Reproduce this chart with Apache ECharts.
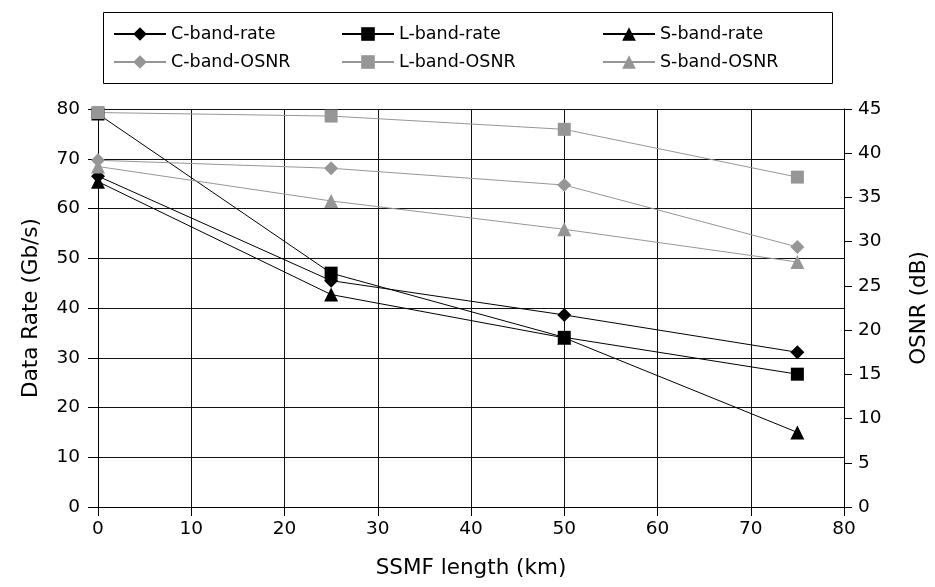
<!DOCTYPE html>
<html><head><meta charset="utf-8">
<script src="https://cdn.jsdelivr.net/npm/echarts@6/dist/echarts.min.js"></script>
<style>html,body{margin:0;padding:0;background:#fff}#c{width:935px;height:587px}</style>
</head><body><div id="c"></div>
<script>
const lengths = [0, 25, 50, 75];
const cBandRate = [66.5, 45.5, 38.6, 31.1];
const lBandRate = [79, 47, 34.1, 26.7];
const sBandRate = [65.4, 42.7, 34, 15];
const cBandOSNR = [39.2, 38.3, 36.4, 29.4];
const lBandOSNR = [44.6, 44.2, 42.7, 37.3];
const sBandOSNR = [38.5, 34.6, 31.4, 27.7];
const seriesNames = ['C-band-rate','L-band-rate','S-band-rate','C-band-OSNR','L-band-OSNR','S-band-OSNR'];

const FONT = 'DejaVu Sans';
const BLACK = '#000000';
const GRAY = '#969696';
const pairs = (ys) => lengths.map((x, i) => [x, ys[i]]);

function mk(name, data, yIdx, color, symbol, size) {
  return {
    name, type: 'line', yAxisIndex: yIdx, data: pairs(data),
    symbol, symbolSize: size, showSymbol: true,
    lineStyle: { color, width: 1 },
    itemStyle: { color, borderWidth: 0 },
    emphasis: { disabled: true },
    animation: false
  };
}

const legendPos = [
  [113, 25], [341, 25], [602, 25],
  [113, 53], [341, 53], [602, 53]
];

const chart = echarts.init(document.getElementById('c'), null, { renderer: 'canvas' });
chart.setOption({
  animation: false,
  textStyle: { fontFamily: FONT },
  graphic: [{
    type: 'rect', shape: { x: 103.5, y: 12.5, width: 729, height: 71 },
    style: { fill: 'none', stroke: '#000', lineWidth: 1 }, z: 0
  }],
  legend: seriesNames.map((n, i) => ({
    data: [n], left: legendPos[i][0], top: legendPos[i][1],
    itemWidth: 52, itemHeight: 17, itemGap: 6, padding: 0,
    textStyle: { fontFamily: FONT, fontSize: 17.5, color: '#000' },
    selectedMode: false
  })),
  grid: { left: 98, right: 91, top: 109, bottom: 80, containLabel: false, outerBoundsMode: 'none' },
  xAxis: {
    type: 'value', min: 0, max: 80, interval: 10,
    name: 'SSMF length (km)', nameLocation: 'middle', nameGap: 50,
    nameTextStyle: { fontFamily: FONT, fontSize: 21.5, color: '#000' },
    axisLine: { show: true, onZero: false, lineStyle: { color: '#000', width: 1 } },
    axisTick: { show: true, length: 9, lineStyle: { color: '#000' } },
    axisLabel: { fontFamily: FONT, fontSize: 18.5, color: '#000', margin: 13 },
    splitLine: { show: true, lineStyle: { color: '#111', width: 1 } }
  },
  yAxis: [{
    type: 'value', min: 0, max: 80, interval: 10, position: 'left',
    name: 'Data Rate (Gb/s)', nameLocation: 'middle', nameGap: 56,
    nameTextStyle: { fontFamily: FONT, fontSize: 21.5, color: '#000' },
    axisLine: { show: true, lineStyle: { color: '#000', width: 1 } },
    axisTick: { show: true, length: 10, lineStyle: { color: '#000' } },
    axisLabel: { fontFamily: FONT, fontSize: 18.5, color: '#000', margin: 18 },
    splitLine: { show: true, lineStyle: { color: '#111', width: 1 } }
  }, {
    type: 'value', min: 0, max: 45, interval: 5, position: 'right',
    name: 'OSNR (dB)', nameLocation: 'middle', nameGap: 64,
    nameTextStyle: { fontFamily: FONT, fontSize: 21.5, color: '#000' },
    axisLine: { show: true, lineStyle: { color: '#000', width: 1 } },
    axisTick: { show: true, length: 8, lineStyle: { color: '#000' } },
    axisLabel: { fontFamily: FONT, fontSize: 18.5, color: '#000', margin: 14 },
    splitLine: { show: false }
  }],
  series: [
    mk('C-band-rate', cBandRate, 0, BLACK, 'diamond', 14),
    mk('L-band-rate', lBandRate, 0, BLACK, 'rect', 13),
    mk('S-band-rate', sBandRate, 0, BLACK, 'triangle', 14),
    mk('C-band-OSNR', cBandOSNR, 1, GRAY, 'diamond', 14),
    mk('L-band-OSNR', lBandOSNR, 1, GRAY, 'rect', 13),
    mk('S-band-OSNR', sBandOSNR, 1, GRAY, 'triangle', 14)
  ]
});
</script>
</body></html>
